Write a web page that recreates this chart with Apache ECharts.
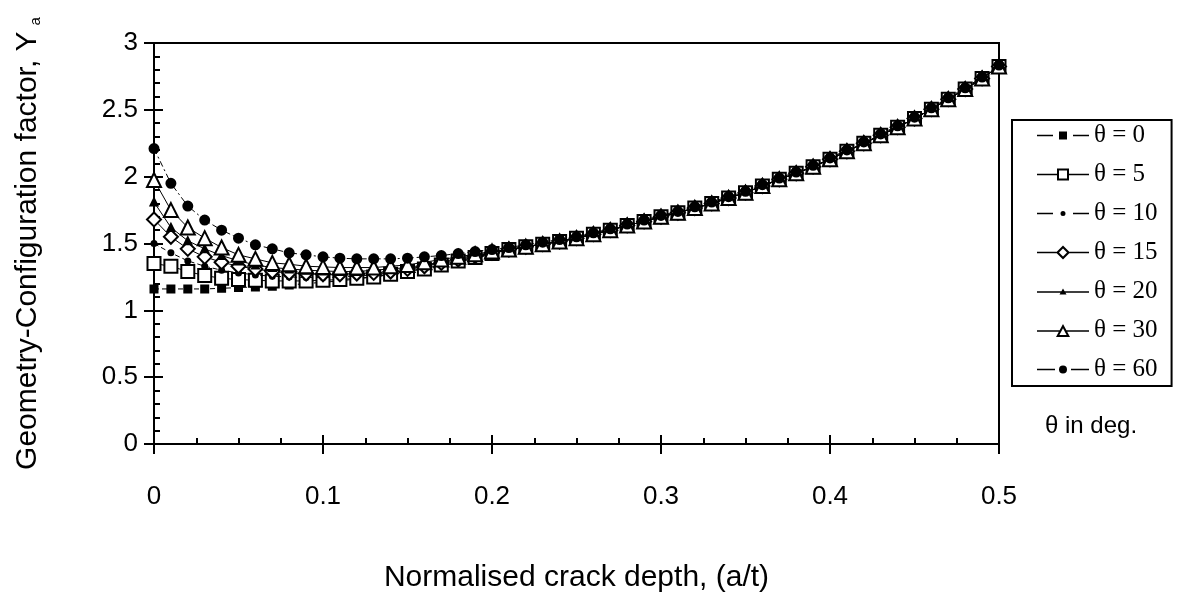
<!DOCTYPE html>
<html><head><meta charset="utf-8">
<script src="https://cdn.jsdelivr.net/npm/echarts@6/dist/echarts.min.js"></script>
<style>html,body{margin:0;padding:0;background:#fff}#c{width:1179px;height:598px}</style>
</head><body><div id="c"></div><script>
// x positions: normalised crack depth a/t
const xHead = [0,0.01,0.02,0.03,0.04,0.05,0.06,0.07,0.08,0.09,0.10,0.11,0.12,0.13,0.14,0.15,0.16,0.17,0.18,0.19,0.20];
const xTail = [0.21,0.22,0.23,0.24,0.25,0.26,0.27,0.28,0.29,0.30,0.31,0.32,0.33,0.34,0.35,0.36,0.37,0.38,0.39,0.40,0.41,0.42,0.43,0.44,0.45,0.46,0.47,0.48,0.49,0.50];

// Geometry-configuration factor values (x = 0 .. 0.20)
const head0  = [1.16,1.16,1.16,1.16,1.165,1.17,1.175,1.18,1.19,1.20,1.21,1.22,1.235,1.25,1.265,1.285,1.305,1.33,1.36,1.39,1.42];
const head5  = [1.35,1.33,1.29,1.26,1.24,1.23,1.225,1.22,1.22,1.22,1.225,1.23,1.24,1.25,1.27,1.29,1.31,1.34,1.37,1.395,1.425];
const head10 = [1.50,1.43,1.37,1.33,1.30,1.28,1.265,1.255,1.25,1.245,1.245,1.25,1.255,1.265,1.28,1.30,1.32,1.345,1.375,1.40,1.43];
const head15 = [1.68,1.55,1.46,1.40,1.36,1.33,1.31,1.29,1.28,1.275,1.27,1.27,1.275,1.28,1.29,1.31,1.33,1.355,1.38,1.405,1.43];
const head20 = [1.81,1.62,1.52,1.46,1.41,1.37,1.34,1.32,1.31,1.30,1.295,1.29,1.29,1.30,1.31,1.32,1.34,1.36,1.39,1.41,1.435];
const head30 = [1.975,1.75,1.62,1.54,1.47,1.415,1.385,1.355,1.345,1.33,1.325,1.32,1.32,1.32,1.33,1.34,1.36,1.38,1.40,1.42,1.44];
const head60 = [2.21,1.95,1.78,1.675,1.60,1.54,1.49,1.46,1.43,1.415,1.40,1.39,1.385,1.385,1.385,1.39,1.40,1.41,1.425,1.44,1.455];
// merged part (x = 0.21 .. 0.50)
const tailLow = [1.455,1.475,1.495,1.515,1.54,1.57,1.60,1.635,1.665,1.70,1.73,1.765,1.80,1.84,1.88,1.93,1.98,2.025,2.075,2.13,2.19,2.25,2.31,2.37,2.435,2.505,2.58,2.655,2.735,2.825];
const tail60  = [1.47,1.49,1.51,1.53,1.55,1.58,1.61,1.645,1.675,1.71,1.74,1.775,1.81,1.85,1.89,1.94,1.99,2.035,2.085,2.14,2.20,2.26,2.32,2.38,2.445,2.515,2.59,2.665,2.745,2.835];

const names = ['θ = 0','θ = 5','θ = 10','θ = 15','θ = 20','θ = 30','θ = 60'];
const xTicks = [0,0.1,0.2,0.3,0.4,0.5];
const yTicks = [0,0.5,1,1.5,2,2.5,3];

const xs = xHead.concat(xTail);
function pairs(head, tail){ const ys = head.concat(tail); return xs.map((x,i)=>[x, ys[i]]); }

const styles = [
  {symbol:'rect', size:7, dash:[5,3]},
  {symbol:'emptyRect', size:13, dash:'solid'},
  {symbol:'circle', size:5, dash:[5,3]},
  {symbol:'emptyDiamond', size:14, dash:'solid'},
  {symbol:'triangle', size:7, dash:'solid'},
  {symbol:'emptyTriangle', size:14, dash:'solid'},
  {symbol:'circle', size:9, dash:[6,3,2,3]}
];
// legend glyphs: line + marker (52 x 14 box)
const L = 'M0,6.3H52V7.7H0Z ';
const legendIcons = [
  'path://M0,6.3H16V7.7H0Z M36,6.3H52V7.7H36Z M22,3H30V11H22Z',
  'path://M0,6.3H20.5V7.7H0Z M31.5,6.3H52V7.7H31.5Z M20,1H32V13H20Z M22,3V11H30V3Z',
  'path://M0,6.3H16V7.7H0Z M36,6.3H52V7.7H36Z M23.5,7a2.5,2.5 0 1,0 5,0a2.5,2.5 0 1,0 -5,0Z',
  'path://M0,6.3H19.5V7.7H0Z M32.5,6.3H52V7.7H32.5Z M26,0L33,7L26,14L19,7Z M26,3L22,7L26,11L30,7Z',
  'path://' + L + 'M26,3.5L29.5,9.5L22.5,9.5Z',
  'path://M0,6.3H22.5V7.7H0Z M29.5,6.3H52V7.7H29.5Z M26,0L33,13L19,13Z M26,4.3L22.4,11L29.6,11Z',
  'path://M0,6.3H18V7.7H0Z M34,6.3H52V7.7H34Z M22,7a4,4 0 1,0 8,0a4,4 0 1,0 -8,0Z'
];
const dataSets = [
  pairs(head0, tailLow), pairs(head5, tailLow), pairs(head10, tailLow), pairs(head15, tailLow),
  pairs(head20, tailLow), pairs(head30, tailLow), pairs(head60, tail60)
];

const series = names.map((n,i)=>({
  name:n, type:'line', xAxisIndex:0, yAxisIndex:0,
  data:dataSets[i], symbol:styles[i].symbol, symbolSize:styles[i].size,
  showAllSymbol:true, animation:false,
  itemStyle:{color:'#000', borderColor:'#000', borderWidth:2},
  lineStyle:{color:'#000', width:1, type:styles[i].dash},
  z: 2+i
}));

const font = 'Liberation Sans';
const chart = echarts.init(document.getElementById('c'), null, {renderer:'canvas'});
chart.setOption({
  backgroundColor:'#fff',
  animation:false,
  grid:{left:154, right:180, top:43, bottom:154, show:true, borderColor:'#000', borderWidth:2, backgroundColor:'transparent'},
  legend:{
    orient:'vertical', left:1012, top:120, padding:[3,14,4,25],
    itemWidth:52, itemHeight:14, itemGap:14, symbolKeepAspect:true,
    borderColor:'#000', borderWidth:2,
    itemStyle:{color:'#000', borderWidth:0},
    textStyle:{fontFamily:'Liberation Serif', fontSize:25, color:'#000'},
    data:names.map((n,i)=>({name:n, icon:legendIcons[i], itemStyle:{color:'#000', borderWidth:0}}))
  },
  xAxis:[
    {type:'value', min:0, max:0.5, interval:0.1, position:'bottom',
     axisLine:{show:true, onZero:false, lineStyle:{color:'#000', width:2}},
     axisTick:{show:true, inside:false, length:10, lineStyle:{color:'#000', width:2}},
     axisLabel:{fontSize:26, fontFamily:font, color:'#000', margin:40,
       formatter:v=>{const t=xTicks.find(k=>Math.abs(k-v)<1e-9);return t===undefined?'':String(t);}},
     splitLine:{show:false},
     name:'Normalised crack depth, (a/t)', nameLocation:'middle', nameGap:119,
     nameTextStyle:{fontSize:30, fontFamily:font, color:'#000'}},
    {type:'value', min:0, max:0.5, interval:0.1, position:'bottom',
     axisLine:{show:false, onZero:false},
     axisTick:{show:true, inside:true, length:9, lineStyle:{color:'#000', width:2}},
     minorTick:{show:true, splitNumber:4, length:6, lineStyle:{color:'#000', width:2}},
     axisLabel:{show:false}, splitLine:{show:false}}
  ],
  yAxis:[
    {type:'value', min:0, max:3, interval:0.5, position:'left',
     axisLine:{show:true, onZero:false, lineStyle:{color:'#000', width:2}},
     axisTick:{show:true, inside:false, length:10, lineStyle:{color:'#000', width:2}},
     axisLabel:{fontSize:26, fontFamily:font, color:'#000', margin:16,
       formatter:v=>{const t=yTicks.find(k=>Math.abs(k-v)<1e-9);return t===undefined?'':String(t);}},
     splitLine:{show:false},
     name:'Geometry-Configuration factor, Y{s|a}', nameLocation:'middle', nameGap:111,
     nameTextStyle:{fontSize:30, fontFamily:font, color:'#000',
       rich:{s:{fontSize:15, fontFamily:font, color:'#000', verticalAlign:'bottom', padding:[0,0,0,6]}}}},
    {type:'value', min:0, max:3, interval:0.5, position:'left',
     axisLine:{show:false, onZero:false},
     axisTick:{show:true, inside:true, length:9, lineStyle:{color:'#000', width:2}},
     minorTick:{show:true, splitNumber:5, length:6, lineStyle:{color:'#000', width:2}},
     axisLabel:{show:false}, splitLine:{show:false}}
  ],
  graphic:[
    {type:'text', left:1045, top:414, style:{text:'θ in deg.', font:'24px "Liberation Sans"', fill:'#000'}}
  ],
  series:series
});
</script></body></html>
